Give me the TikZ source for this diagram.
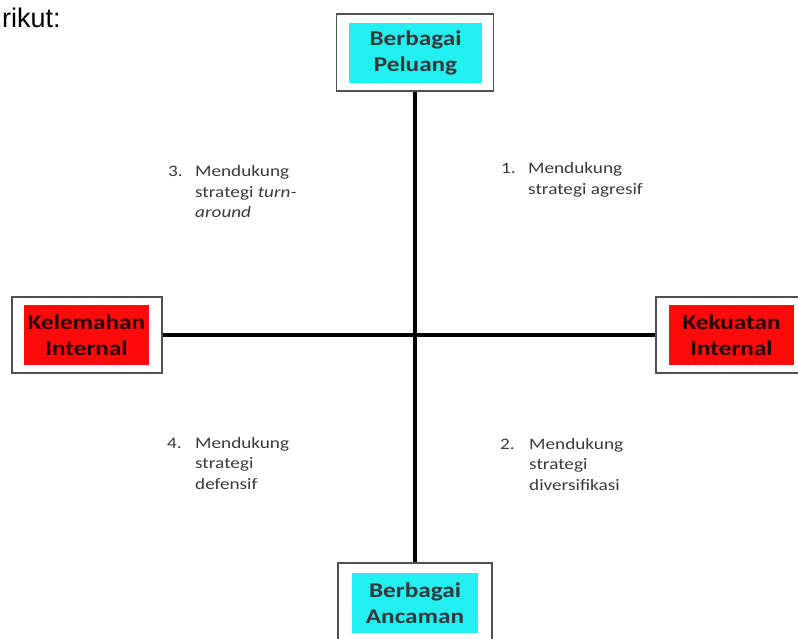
\documentclass[tikz,border=0pt]{standalone}
\usepackage{fontspec}
\setmainfont{Carlito}
\newfontfamily\boxfont{Carlito}[FakeStretch=1.2]
\newfontfamily\notefont{Carlito}[FakeStretch=1.2]
\newfontfamily\introfont{Liberation Sans}
\definecolor{peluangcyan}{HTML}{22F0F0}
\definecolor{internalred}{HTML}{FF0A0A}
\definecolor{framegray}{HTML}{505050}
\definecolor{notegray}{HTML}{3A3A3A}
\begin{document}
\begin{tikzpicture}[x=1pt, y=-1pt,
  frame/.style={draw=framegray,line width=1.3pt,fill=white,inner sep=0pt},
  inbox/.style={inner sep=0pt,minimum width=127pt,minimum height=60pt,align=center,
    font=\boxfont\bfseries\fontsize{21}{26}\selectfont},
  cyanbox/.style={inbox,fill=peluangcyan,text=black!80!cyan!60!black},
  redbox/.style={inbox,fill=internalred,text=black!85!red},
  axis/.style={line width=4pt,black},
  note/.style={anchor=base west,inner sep=0pt,text=notegray,
    font=\notefont\fontsize{16}{20.5}\selectfont}]
\path[use as bounding box] (0,0) rectangle (798,639);
\clip (0,0) rectangle (798,639);
\node[font=\introfont\fontsize{27}{30}\selectfont,anchor=base west,inner sep=0pt] (intro) at (2,28) {rikut:};
% frames
\node[frame,minimum width=157pt,minimum height=77pt] (peluang) at (415,52.5) {};
\node[frame,minimum width=154pt,minimum height=77pt] (ancaman) at (415,601.5) {};
\node[frame,minimum width=150pt,minimum height=76pt] (kelemahan) at (87,335) {};
\node[frame,minimum width=150pt,minimum height=76pt] (kekuatan) at (731,335) {};
% coloured fields
\node[cyanbox,minimum width=133pt] (peluangin) at (415.5,53) {Berbagai\\Peluang};
\node[cyanbox,minimum width=126pt] (ancamanin) at (415,603) {Berbagai\\Ancaman};
\node[redbox,minimum width=125pt] (kelemahanin) at (86.5,335) {Kelemahan\\Internal};
\node[redbox,minimum width=125pt] (kekuatanin) at (731.5,335) {Kekuatan\\Internal};
% axes
\draw[axis] (peluang) -- (ancaman);
\draw[axis] (kelemahan) -- (kekuatan);
% quadrant notes
\node[note] (agresif) at (501,174) {\begin{tabular}[t]{@{}p{27pt}@{}l@{}}1. & Mendukung\\ & strategi agresif\end{tabular}};
\node[note] (diversifikasi) at (500,449) {\begin{tabular}[t]{@{}p{29pt}@{}l@{}}2. & Mendukung\\ & strategi\\ & diversifikasi\end{tabular}};
\node[note] (turnaround) at (168,177) {\begin{tabular}[t]{@{}p{27pt}@{}l@{}}3. & Mendukung\\ & strategi \textit{turn-}\\ & \textit{around}\end{tabular}};
\node[note] (defensif) at (167,448) {\begin{tabular}[t]{@{}p{28pt}@{}l@{}}4. & Mendukung\\ & strategi\\ & defensif\end{tabular}};
\end{tikzpicture}
\end{document}
